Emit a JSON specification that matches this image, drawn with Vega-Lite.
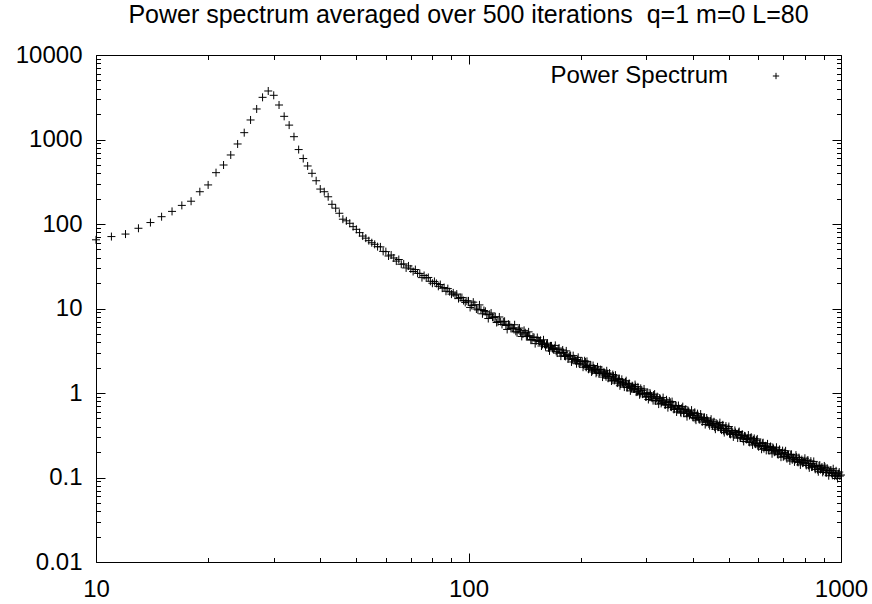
{
  "$schema": "https://vega.github.io/schema/vega-lite/v6.json",
  "width": 745,
  "height": 507,
  "autosize": "none",
  "padding": {"left": 96, "top": 55, "right": 31, "bottom": 42},
  "background": "white",
  "title": {"text": "Power spectrum averaged over 500 iterations \u00a0q=1 m=0 L=80", "font": "Liberation Sans", "fontSize": 25, "fontWeight": "normal", "color": "black", "anchor": "middle", "baseline": "alphabetic", "offset": -5},
  "config": {"view": {"stroke": "black", "strokeWidth": 1}, "font": "Liberation Sans"},
  "data": {"values": [
    {"k":10,"p":65},{"k":11,"p":71},{"k":12,"p":76},{"k":13,"p":89},{"k":14,"p":104},{"k":15,"p":122},{"k":16,"p":141},{"k":17,"p":166},{"k":18,"p":186},{"k":19,"p":241},
    {"k":20,"p":290},{"k":21,"p":405},{"k":22,"p":499},{"k":23,"p":656},{"k":24,"p":885},{"k":25,"p":1205},{"k":26,"p":1702},{"k":27,"p":2297},{"k":28,"p":3155},{"k":29,"p":3750},
    {"k":30,"p":3334},{"k":31,"p":2560},{"k":32,"p":1880},{"k":33,"p":1480},{"k":34,"p":1080},{"k":35,"p":760},{"k":36,"p":595},{"k":37,"p":486},{"k":38,"p":398},{"k":39,"p":325},
    {"k":40,"p":259},{"k":41,"p":241},{"k":42,"p":210},{"k":43,"p":171},{"k":44,"p":154},{"k":45,"p":134},{"k":46,"p":114},{"k":47,"p":109},{"k":48,"p":102},{"k":49,"p":93},
    {"k":50,"p":86.5},{"k":51,"p":79},{"k":52,"p":72},{"k":53,"p":68},{"k":54,"p":63.5},{"k":55,"p":60},{"k":56,"p":57.5},{"k":57,"p":54},{"k":58,"p":53.6},{"k":59,"p":47.4},
    {"k":60,"p":47.1},{"k":61,"p":41.8},{"k":62,"p":43.0},{"k":63,"p":39.6},{"k":64,"p":36.4},{"k":65,"p":38.0},{"k":66,"p":33.4},{"k":67,"p":33.7},{"k":68,"p":30.2},{"k":69,"p":31.9},
    {"k":70,"p":29.4},{"k":71,"p":27.4},{"k":72,"p":28.9},{"k":73,"p":26.1},{"k":74,"p":26.0},{"k":75,"p":23.2},{"k":76,"p":24.6},{"k":77,"p":23.0},{"k":78,"p":23.3},{"k":79,"p":21.0},
    {"k":80,"p":19.9},{"k":81,"p":20.9},{"k":82,"p":19.8},{"k":83,"p":18.3},{"k":84,"p":19.2},{"k":85,"p":17.4},{"k":86,"p":17.7},{"k":87,"p":16.0},{"k":88,"p":17.2},{"k":89,"p":15.8},
    {"k":90,"p":14.8},{"k":91,"p":15.3},{"k":92,"p":14.4},{"k":93,"p":14.8},{"k":94,"p":13.1},{"k":95,"p":13.5},{"k":96,"p":13.5},{"k":97,"p":12.4},{"k":98,"p":11.8},{"k":99,"p":12.3},
    {"k":100,"p":12.3},{"k":102,"p":10.87},{"k":104,"p":11.08},{"k":106,"p":9.62},{"k":108,"p":9.71},{"k":110,"p":9.47},{"k":112,"p":8.44},{"k":114,"p":8.54},{"k":116,"p":7.89},{"k":118,"p":8.00},
    {"k":120,"p":6.98},{"k":122,"p":7.00},{"k":124,"p":6.96},{"k":126,"p":6.30},{"k":128,"p":6.52},{"k":130,"p":5.81},{"k":132,"p":5.88},{"k":134,"p":5.37},{"k":136,"p":5.63},{"k":138,"p":5.27},
    {"k":140,"p":4.99},{"k":142,"p":5.17},{"k":144,"p":4.74},{"k":146,"p":4.75},{"k":148,"p":4.30},{"k":150,"p":4.53},{"k":152,"p":4.15},{"k":154,"p":4.17},{"k":156,"p":4.20},{"k":158,"p":3.76},
    {"k":160,"p":3.79},{"k":162,"p":3.77},{"k":164,"p":3.42},{"k":166,"p":3.61},{"k":168,"p":3.36},{"k":170,"p":3.39},{"k":172,"p":3.11},{"k":174,"p":3.29},{"k":176,"p":2.99},{"k":178,"p":2.99},
    {"k":180,"p":3.01},{"k":182,"p":2.71},{"k":184,"p":2.84},{"k":186,"p":2.68},{"k":188,"p":2.77},{"k":190,"p":2.49},{"k":192,"p":2.55},{"k":194,"p":2.41},{"k":196,"p":2.49},{"k":198,"p":2.25},
    {"k":200,"p":2.36},{"k":202,"p":2.369},{"k":204,"p":2.143},{"k":206,"p":2.330},{"k":207,"p":2.013},{"k":209,"p":2.114},{"k":211,"p":2.003},{"k":213,"p":2.128},{"k":215,"p":1.838},{"k":217,"p":1.976},
    {"k":219,"p":1.893},{"k":221,"p":1.773},{"k":223,"p":1.884},{"k":225,"p":1.764},{"k":228,"p":1.874},{"k":230,"p":1.638},{"k":232,"p":1.720},{"k":234,"p":1.556},{"k":236,"p":1.692},{"k":238,"p":1.548},
    {"k":240,"p":1.571},{"k":243,"p":1.421},{"k":245,"p":1.581},{"k":247,"p":1.414},{"k":249,"p":1.503},{"k":252,"p":1.359},{"k":254,"p":1.478},{"k":256,"p":1.276},{"k":259,"p":1.341},{"k":261,"p":1.270},
    {"k":264,"p":1.350},{"k":266,"p":1.166},{"k":269,"p":1.253},{"k":271,"p":1.200},{"k":274,"p":1.124},{"k":276,"p":1.194},{"k":279,"p":1.118},{"k":281,"p":1.189},{"k":284,"p":1.038},{"k":286,"p":1.091},
    {"k":289,"p":0.987},{"k":292,"p":1.073},{"k":294,"p":0.982},{"k":297,"p":0.996},{"k":300,"p":0.901},{"k":303,"p":1.005},{"k":305,"p":0.900},{"k":308,"p":0.958},{"k":311,"p":0.868},{"k":314,"p":0.946},
    {"k":317,"p":0.819},{"k":320,"p":0.862},{"k":323,"p":0.818},{"k":326,"p":0.870},{"k":329,"p":0.753},{"k":332,"p":0.811},{"k":335,"p":0.779},{"k":338,"p":0.730},{"k":341,"p":0.777},{"k":344,"p":0.729},
    {"k":348,"p":0.776},{"k":351,"p":0.680},{"k":354,"p":0.715},{"k":357,"p":0.648},{"k":361,"p":0.706},{"k":364,"p":0.647},{"k":367,"p":0.658},{"k":371,"p":0.596},{"k":374,"p":0.665},{"k":378,"p":0.596},
    {"k":381,"p":0.634},{"k":385,"p":0.574},{"k":388,"p":0.626},{"k":392,"p":0.542},{"k":395,"p":0.570},{"k":399,"p":0.541},{"k":403,"p":0.576},{"k":406,"p":0.498},{"k":410,"p":0.537},{"k":414,"p":0.515},
    {"k":418,"p":0.483},{"k":422,"p":0.514},{"k":426,"p":0.483},{"k":430,"p":0.514},{"k":434,"p":0.450},{"k":438,"p":0.473},{"k":442,"p":0.429},{"k":446,"p":0.467},{"k":450,"p":0.428},{"k":454,"p":0.435},
    {"k":458,"p":0.394},{"k":462,"p":0.440},{"k":467,"p":0.394},{"k":471,"p":0.420},{"k":475,"p":0.380},{"k":480,"p":0.414},{"k":484,"p":0.359},{"k":489,"p":0.378},{"k":493,"p":0.358},{"k":498,"p":0.382},
    {"k":502,"p":0.330},{"k":507,"p":0.356},{"k":512,"p":0.342},{"k":516,"p":0.321},{"k":521,"p":0.341},{"k":526,"p":0.320},{"k":531,"p":0.341},{"k":536,"p":0.299},{"k":541,"p":0.315},{"k":546,"p":0.285},
    {"k":551,"p":0.311},{"k":556,"p":0.285},{"k":561,"p":0.290},{"k":566,"p":0.263},{"k":571,"p":0.293},{"k":577,"p":0.262},{"k":582,"p":0.279},{"k":587,"p":0.253},{"k":593,"p":0.276},{"k":598,"p":0.239},
    {"k":604,"p":0.251},{"k":610,"p":0.238},{"k":615,"p":0.254},{"k":621,"p":0.220},{"k":627,"p":0.237},{"k":632,"p":0.228},{"k":638,"p":0.213},{"k":644,"p":0.227},{"k":650,"p":0.213},{"k":656,"p":0.227},
    {"k":662,"p":0.199},{"k":668,"p":0.209},{"k":675,"p":0.190},{"k":681,"p":0.207},{"k":687,"p":0.190},{"k":693,"p":0.194},{"k":700,"p":0.176},{"k":706,"p":0.197},{"k":713,"p":0.177},{"k":719,"p":0.189},
    {"k":726,"p":0.171},{"k":733,"p":0.187},{"k":740,"p":0.162},{"k":746,"p":0.171},{"k":753,"p":0.163},{"k":760,"p":0.174},{"k":767,"p":0.151},{"k":774,"p":0.163},{"k":782,"p":0.157},{"k":789,"p":0.148},
    {"k":796,"p":0.158},{"k":804,"p":0.148},{"k":811,"p":0.158},{"k":818,"p":0.139},{"k":826,"p":0.147},{"k":834,"p":0.133},{"k":841,"p":0.145},{"k":849,"p":0.134},{"k":857,"p":0.136},{"k":865,"p":0.124},
    {"k":873,"p":0.138},{"k":881,"p":0.124},{"k":889,"p":0.133},{"k":897,"p":0.120},{"k":906,"p":0.132},{"k":914,"p":0.114},{"k":923,"p":0.121},{"k":931,"p":0.115},{"k":940,"p":0.122},{"k":948,"p":0.106},
    {"k":957,"p":0.115},{"k":966,"p":0.110},{"k":975,"p":0.104},{"k":984,"p":0.111},{"k":993,"p":0.104},{"k":1000,"p":0.107},
    {"k":101,"p":10.29},{"k":103,"p":11.89},{"k":105,"p":9.86},{"k":107,"p":11.03},{"k":109,"p":8.65},{"k":111,"p":9.26},{"k":113,"p":7.61},{"k":115,"p":8.85},{"k":117,"p":7.81},{"k":119,"p":6.82},
    {"k":121,"p":7.94},{"k":123,"p":6.48},{"k":125,"p":7.05},{"k":127,"p":5.65},{"k":129,"p":6.41},{"k":131,"p":5.78},{"k":133,"p":6.42},{"k":135,"p":5.16},{"k":137,"p":5.87},{"k":139,"p":4.67},
    {"k":141,"p":5.51},{"k":143,"p":4.65},{"k":145,"p":5.29},{"k":147,"p":4.22},{"k":149,"p":4.60},{"k":151,"p":3.84},{"k":153,"p":4.54},{"k":155,"p":4.07},{"k":157,"p":3.60},{"k":159,"p":4.26},
    {"k":161,"p":3.53},{"k":163,"p":3.89},{"k":165,"p":3.15},{"k":167,"p":3.61},{"k":169,"p":3.28},{"k":171,"p":3.66},{"k":173,"p":2.97},{"k":175,"p":3.40},{"k":177,"p":2.73},{"k":179,"p":3.23},
    {"k":181,"p":2.75},{"k":183,"p":3.15},{"k":185,"p":2.53},{"k":187,"p":2.77},{"k":189,"p":2.33},{"k":191,"p":2.77},{"k":193,"p":2.49},{"k":195,"p":2.22},{"k":197,"p":2.64},{"k":199,"p":2.20},
    {"k":203,"p":2.020},{"k":205,"p":2.408},{"k":207,"p":2.057},{"k":208,"p":2.369},{"k":210,"p":1.909},{"k":212,"p":2.100},{"k":214,"p":1.773},{"k":216,"p":2.114},{"k":218,"p":1.912},{"k":220,"p":1.710},
    {"k":222,"p":2.039},{"k":224,"p":1.701},{"k":226,"p":1.892},{"k":229,"p":1.543},{"k":231,"p":1.778},{"k":233,"p":1.627},{"k":235,"p":1.831},{"k":237,"p":1.493},{"k":239,"p":1.720},{"k":242,"p":1.386},
    {"k":244,"p":1.653},{"k":246,"p":1.412},{"k":248,"p":1.626},{"k":251,"p":1.311},{"k":253,"p":1.442},{"k":255,"p":1.217},{"k":258,"p":1.451},{"k":260,"p":1.313},{"k":262,"p":1.174},{"k":265,"p":1.399},
    {"k":267,"p":1.168},{"k":270,"p":1.299},{"k":272,"p":1.060},{"k":275,"p":1.220},{"k":277,"p":1.117},{"k":280,"p":1.257},{"k":282,"p":1.025},{"k":285,"p":1.181},{"k":288,"p":0.952},{"k":290,"p":1.135},
    {"k":293,"p":0.969},{"k":296,"p":1.116},{"k":299,"p":0.900},{"k":301,"p":0.991},{"k":304,"p":0.838},{"k":307,"p":1.001},{"k":310,"p":0.907},{"k":313,"p":0.812},{"k":316,"p":0.971},{"k":318,"p":0.811},
    {"k":321,"p":0.905},{"k":324,"p":0.739},{"k":327,"p":0.853},{"k":330,"p":0.782},{"k":333,"p":0.882},{"k":337,"p":0.720},{"k":340,"p":0.831},{"k":343,"p":0.671},{"k":346,"p":0.802},{"k":349,"p":0.686},
    {"k":352,"p":0.791},{"k":356,"p":0.639},{"k":359,"p":0.704},{"k":362,"p":0.596},{"k":366,"p":0.711},{"k":369,"p":0.645},{"k":372,"p":0.578},{"k":376,"p":0.690},{"k":379,"p":0.577},{"k":383,"p":0.643},
    {"k":386,"p":0.525},{"k":390,"p":0.606},{"k":394,"p":0.556},{"k":397,"p":0.627},{"k":401,"p":0.512},{"k":405,"p":0.591},{"k":408,"p":0.477},{"k":412,"p":0.570},{"k":416,"p":0.488},{"k":420,"p":0.563},
    {"k":424,"p":0.454},{"k":428,"p":0.501},{"k":432,"p":0.423},{"k":436,"p":0.506},{"k":440,"p":0.458},{"k":444,"p":0.411},{"k":448,"p":0.490},{"k":452,"p":0.410},{"k":456,"p":0.457},{"k":460,"p":0.373},
    {"k":465,"p":0.431},{"k":469,"p":0.395},{"k":473,"p":0.446},{"k":478,"p":0.364},{"k":482,"p":0.420},{"k":486,"p":0.340},{"k":491,"p":0.406},{"k":495,"p":0.347},{"k":500,"p":0.401},{"k":505,"p":0.324},
    {"k":509,"p":0.357},{"k":514,"p":0.302},{"k":519,"p":0.361},{"k":524,"p":0.327},{"k":528,"p":0.293},{"k":533,"p":0.350},{"k":538,"p":0.293},{"k":543,"p":0.326},{"k":548,"p":0.267},{"k":553,"p":0.308},
    {"k":558,"p":0.282},{"k":564,"p":0.318},{"k":569,"p":0.260},{"k":574,"p":0.300},{"k":579,"p":0.243},{"k":585,"p":0.290},{"k":590,"p":0.248},{"k":596,"p":0.286},{"k":601,"p":0.231},{"k":607,"p":0.255},
    {"k":612,"p":0.216},{"k":618,"p":0.258},{"k":624,"p":0.234},{"k":630,"p":0.209},{"k":635,"p":0.250},{"k":641,"p":0.209},{"k":647,"p":0.233},{"k":653,"p":0.191},{"k":659,"p":0.220},{"k":665,"p":0.202},
    {"k":671,"p":0.228},{"k":678,"p":0.186},{"k":684,"p":0.215},{"k":690,"p":0.174},{"k":697,"p":0.208},{"k":703,"p":0.179},{"k":710,"p":0.207},{"k":716,"p":0.167},{"k":723,"p":0.185},{"k":729,"p":0.157},
    {"k":736,"p":0.188},{"k":743,"p":0.171},{"k":750,"p":0.153},{"k":757,"p":0.184},{"k":764,"p":0.154},{"k":771,"p":0.172},{"k":778,"p":0.141},{"k":785,"p":0.163},{"k":792,"p":0.150},{"k":800,"p":0.169},
    {"k":807,"p":0.139},{"k":815,"p":0.161},{"k":822,"p":0.130},{"k":830,"p":0.156},{"k":838,"p":0.134},{"k":845,"p":0.155},{"k":853,"p":0.125},{"k":861,"p":0.138},{"k":869,"p":0.117},{"k":877,"p":0.140},
    {"k":885,"p":0.128},{"k":893,"p":0.115},{"k":902,"p":0.137},{"k":910,"p":0.115},{"k":918,"p":0.129},{"k":927,"p":0.105},{"k":935,"p":0.122},{"k":944,"p":0.112},{"k":953,"p":0.127},{"k":962,"p":0.104},
    {"k":970,"p":0.120},{"k":979,"p":0.0973},{"k":989,"p":0.116}
  ]},
  "layer": [
    {
      "mark": {"type": "point", "shape": "M-1,0L1,0M0,-1L0,1", "filled": false, "size": 64, "strokeWidth": 1, "opacity": 1},
      "encoding": {
        "x": {"field": "k", "type": "quantitative",
          "scale": {"type": "log", "domain": [10, 1000], "nice": false},
          "axis": {"orient": "bottom", "title": null, "grid": false, "domain": false,
            "values": [10,20,30,40,50,60,70,80,90,100,200,300,400,500,600,700,800,900,1000],
            "format": "~g",
            "labelExpr": "indexof([10,100,1000], datum.value) >= 0 ? datum.label : ''",
            "tickSize": {"condition": {"test": "indexof([10,100,1000], datum.value) >= 0", "value": -9}, "value": -4.5},
            "tickColor": "black", "tickWidth": 1,
            "labelFont": "Liberation Sans", "labelFontSize": 24, "labelColor": "black",
            "labelPadding": 24, "labelFlush": false, "labelOverlap": false, "labelBound": false}},
        "y": {"field": "p", "type": "quantitative",
          "scale": {"type": "log", "domain": [0.01, 10000], "nice": false},
          "axis": {"orient": "left", "title": null, "grid": false, "domain": false,
            "values": [0.01,0.02,0.03,0.04,0.05,0.06,0.07,0.08,0.09,0.1,0.2,0.3,0.4,0.5,0.6,0.7,0.8,0.9,1,2,3,4,5,6,7,8,9,10,20,30,40,50,60,70,80,90,100,200,300,400,500,600,700,800,900,1000,2000,3000,4000,5000,6000,7000,8000,9000,10000],
            "format": "~g",
            "labelExpr": "indexof([0.01,0.1,1,10,100,1000,10000], datum.value) >= 0 ? datum.label : ''",
            "tickSize": {"condition": {"test": "indexof([0.01,0.1,1,10,100,1000,10000], datum.value) >= 0", "value": -9}, "value": -4.5},
            "tickColor": "black", "tickWidth": 1,
            "labelFont": "Liberation Sans", "labelFontSize": 24, "labelColor": "black",
            "labelPadding": 23, "labelOverlap": false, "labelBound": false}},
        "color": {"datum": "Power Spectrum", "scale": {"range": ["black"]},
          "legend": {"title": null, "orient": "none", "legendX": 668, "legendY": 9, "padding": 0,
            "symbolType": "M-1,0L1,0M0,-1L0,1", "symbolSize": 40, "symbolStrokeWidth": 1, "symbolStrokeColor": "black", "symbolFillColor": "transparent",
            "labelFont": "Liberation Sans", "labelFontSize": 24, "labelColor": "black", "labelAlign": "right", "labelOffset": -60, "labelLimit": 0}}
      }
    },
    {
      "mark": {"type": "point", "opacity": 0},
      "encoding": {
        "x": {"field": "k", "type": "quantitative",
          "scale": {"type": "log", "domain": [10, 1000], "nice": false},
          "axis": {"orient": "top", "title": null, "grid": false, "domain": false, "labels": false,
            "values": [10,20,30,40,50,60,70,80,90,100,200,300,400,500,600,700,800,900,1000],
            "tickSize": {"condition": {"test": "indexof([10,100,1000], datum.value) >= 0", "value": -9}, "value": -4.5},
            "tickColor": "black", "tickWidth": 1}},
        "y": {"field": "p", "type": "quantitative",
          "scale": {"type": "log", "domain": [0.01, 10000], "nice": false},
          "axis": {"orient": "right", "title": null, "grid": false, "domain": false, "labels": false,
            "values": [0.01,0.02,0.03,0.04,0.05,0.06,0.07,0.08,0.09,0.1,0.2,0.3,0.4,0.5,0.6,0.7,0.8,0.9,1,2,3,4,5,6,7,8,9,10,20,30,40,50,60,70,80,90,100,200,300,400,500,600,700,800,900,1000,2000,3000,4000,5000,6000,7000,8000,9000,10000],
            "tickSize": {"condition": {"test": "indexof([0.01,0.1,1,10,100,1000,10000], datum.value) >= 0", "value": -9}, "value": -4.5},
            "tickColor": "black", "tickWidth": 1}}
      }
    }
  ],
  "resolve": {"axis": {"x": "independent", "y": "independent"}}
}
